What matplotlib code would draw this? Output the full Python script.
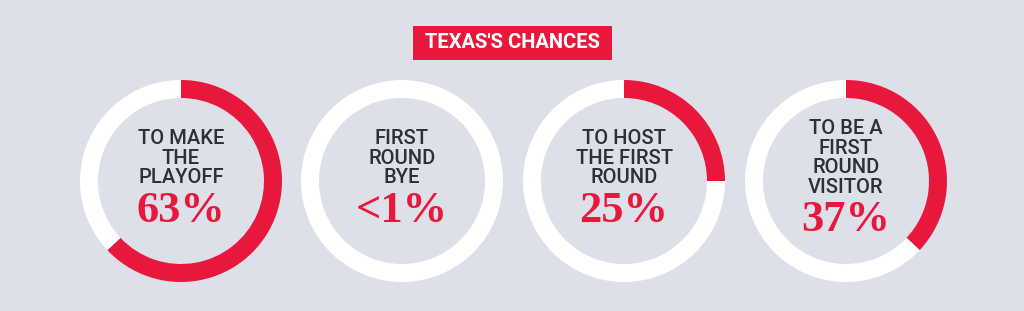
import matplotlib.pyplot as plt
from matplotlib.patches import Rectangle

# data
title = "TEXAS'S CHANCES"
labels = [["TO MAKE", "THE", "PLAYOFF"],
          ["FIRST", "ROUND", "BYE"],
          ["TO HOST", "THE FIRST", "ROUND"],
          ["TO BE A", "FIRST", "ROUND", "VISITOR"]]
chances = [63, 0, 25, 37]
chance_text = ["63%", "<1%", "25%", "37%"]

RED = '#e8183c'
BG = '#dde0e9'
W, H = 1024, 311


def draw_donut(ax, cx, cy, value, label_lines, value_text):
    # cy is in pixels from the top
    y = H - cy
    ax.pie([value, 100 - value], colors=[RED, 'white'], center=(cx, y),
           radius=101, startangle=90, counterclock=False,
           wedgeprops=dict(width=18, linewidth=0))
    n = len(label_lines)
    mid = 174
    first = mid - ((n - 1) * 19.5 + 32) / 2
    for i, line in enumerate(label_lines):
        ax.text(cx, H - (first + i * 19.5), line, ha='center', va='center',
                fontsize=14.5, family='Roboto', weight='medium', color='#2f3035')
    num_y = first + (n - 1) * 19.5 + 33
    ax.text(cx, H - num_y, value_text, ha='center', va='center',
            fontsize=32, family='Liberation Serif', weight='bold', color=RED)


def main():
    fig = plt.figure(figsize=(W / 100, H / 100), dpi=100)
    fig.patch.set_facecolor(BG)
    ax = fig.add_axes([0, 0, 1, 1])
    ax.set_facecolor(BG)

    centers = [181, 402, 624, 846]
    for cx, v, lab, txt in zip(centers, chances, labels, chance_text):
        draw_donut(ax, cx, 181, v, lab, txt)

    ax.add_patch(Rectangle((413, H - 60), 199, 34, facecolor=RED, edgecolor='none'))
    ax.text(512.5, H - 43, title, ha='center', va='center', fontsize=14.5,
            family='Roboto', weight='bold', color='white')

    ax.set_xlim(0, W)
    ax.set_ylim(0, H)
    ax.set_aspect('equal')
    ax.axis('off')
    fig.savefig('out.png', dpi=100, facecolor=BG)


if __name__ == "__main__":
    main()
